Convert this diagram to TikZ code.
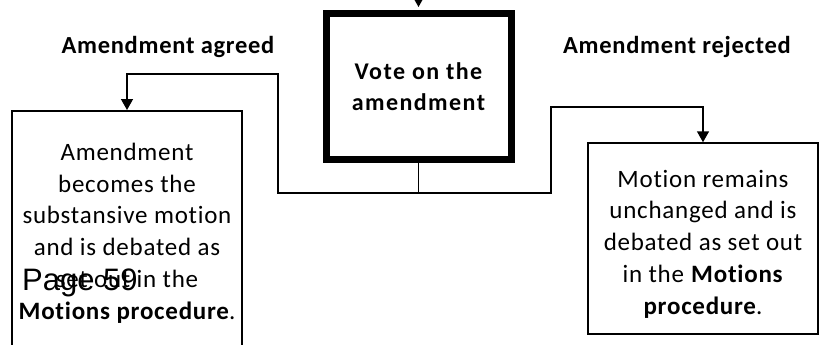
\documentclass[tikz,border=0pt]{standalone}
\usepackage{fontspec}
\setmainfont{Carlito}[Ligatures=NoCommon]
\newfontfamily\pagefont{Liberation Sans}
\usetikzlibrary{arrows.meta,positioning}

\tikzset{
  box/.style={draw, line width=1.5pt, rectangle, inner sep=0pt},
  conn/.style={line width=1.5pt},
  arrowconn/.style={conn, -{Triangle[width=12pt,length=11pt]}},
  boxtext/.style={align=center, inner sep=0pt,
    font=\fontsize{25}{31.8}\selectfont\addfontfeature{LetterSpace=3}},
  branch/.style={inner sep=0pt,
    font=\fontsize{24.5}{26}\selectfont\bfseries\addfontfeature{LetterSpace=3}}
}

\begin{document}
\begin{tikzpicture}[x=1pt,y=-1pt]
\useasboundingbox (0,0) rectangle (830,345);
\clip (0,0) rectangle (830,345);

\node[box, line width=7pt, minimum width=185pt, minimum height=145pt, align=center,
  font=\fontsize{24}{31}\selectfont\bfseries\addfontfeature{LetterSpace=6}]
  (vote) at (418.5,86.5) {Vote on the\\amendment};

\node[box, minimum width=230pt, minimum height=260pt, anchor=north] (agreed) at (127,110) {};
\node[boxtext] (agreedtxt) at (127,233) {Amendment\\becomes the\\substansive motion\\and is debated as\\set out in the\\\textbf{Motions procedure}.};

\node[box, minimum width=230pt, minimum height=191pt] (rejected) at (703,238.5) {};
\node[boxtext] (rejectedtxt) at (703,244) {Motion remains\\unchanged and is\\debated as set out\\in the \textbf{Motions}\\\textbf{procedure}.};

\node[branch] (agreedlbl) at (168,47) {Amendment agreed};
\node[branch] (rejectedlbl) at (677,47) {Amendment rejected};

\node[font=\fontsize{31}{31}\selectfont\pagefont, inner sep=0pt, anchor=west] (page) at (22,283) {Page 59};

\coordinate (top) at (418.5,-10);
\coordinate (split) at (418.5,193);
\coordinate (lbend) at (278,74);
\coordinate (rbend) at (551,107);

\draw[arrowconn, shorten >=3.5pt] (top) -- (vote.north);
\draw[conn] (vote.south) -- (split);
\draw[arrowconn] (split) -| (lbend) -| (agreed.north);
\draw[arrowconn] (split) -| (rbend) -| (rejected.north);
\end{tikzpicture}
\end{document}
